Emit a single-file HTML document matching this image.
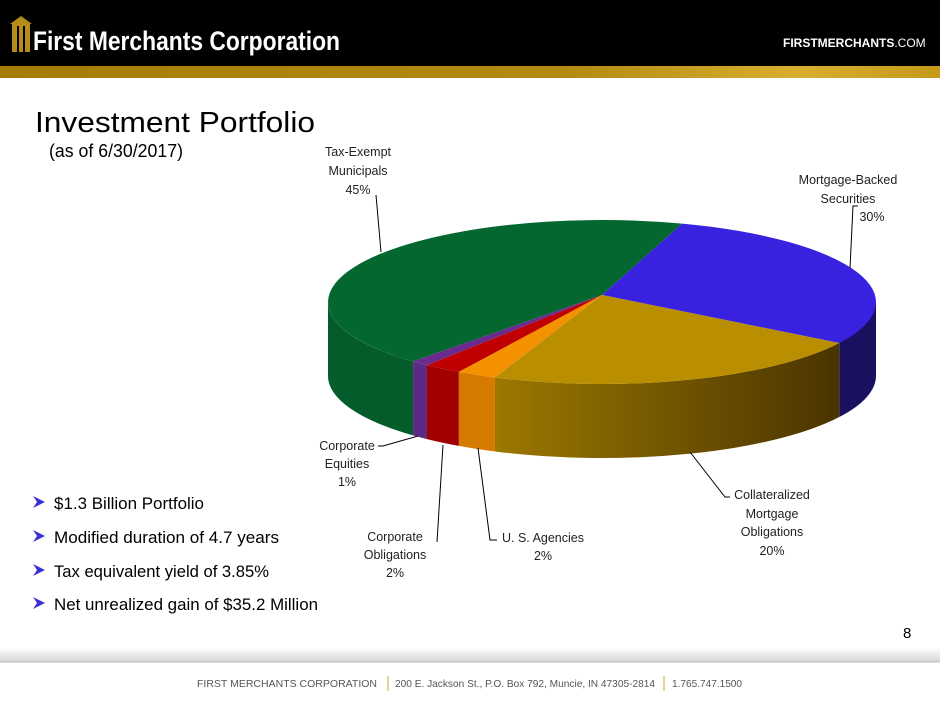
<!DOCTYPE html>
<html><head><meta charset="utf-8"><style>
html,body{margin:0;padding:0;background:#fff;}
svg{display:block;font-family:"Liberation Sans",sans-serif;}
</style></head><body>
<svg width="940" height="705" viewBox="0 0 940 705" xmlns="http://www.w3.org/2000/svg">
<defs>
<linearGradient id="gb" x1="0" x2="1" y1="0" y2="0">
<stop offset="0" stop-color="#a67c00"/><stop offset="0.6" stop-color="#b38a10"/><stop offset="0.85" stop-color="#d9ae30"/><stop offset="1" stop-color="#c59a18"/></linearGradient>
<linearGradient id="gs" x1="0" x2="1" y1="0" y2="0">
<stop offset="0" stop-color="#9c7800"/><stop offset="1" stop-color="#4a3400"/></linearGradient>
<linearGradient id="ft" x1="0" x2="0" y1="0" y2="1">
<stop offset="0" stop-color="#fff"/><stop offset="1" stop-color="#d4d4d4"/></linearGradient>
</defs>
<rect x="0" y="0" width="940" height="66" fill="#000"/>
<rect x="0" y="66" width="940" height="12" fill="url(#gb)"/>
<rect x="12" y="24" width="18" height="28" fill="#b68c1a"/>
<rect x="17" y="26" width="2" height="26" fill="#000"/>
<rect x="23" y="26" width="2" height="26" fill="#000"/>
<polygon points="10,24 21,16 32,24" fill="#b68c1a"/>
<text x="33" y="50" fill="#fff" font-size="27" font-weight="bold" textLength="307" lengthAdjust="spacingAndGlyphs">First Merchants Corporation</text>
<text x="783" y="47" fill="#fff" font-size="12" font-weight="bold">FIRSTMERCHANTS<tspan font-weight="normal">.COM</tspan></text>

<text x="35" y="132" font-size="29" fill="#000" textLength="280" lengthAdjust="spacingAndGlyphs">Investment Portfolio</text>
<text x="49" y="157" font-size="18" fill="#000" textLength="134" lengthAdjust="spacingAndGlyphs">(as of 6/30/2017)</text>

<path d="M839.3,343 A274,82 0 0 1 876,302 L876,376 A274,82 0 0 1 839.3,417 Z" fill="#1a1060"/>
<path d="M839.3,343 A274,82 0 0 1 494.9,377.5 L494.9,451.5 A274,82 0 0 0 839.3,417 Z" fill="url(#gs)"/>
<path d="M494.9,377.5 A274,82 0 0 1 458.8,371.9 L458.8,445.9 A274,82 0 0 0 494.9,451.5 Z" fill="#d67a00"/>
<path d="M458.8,371.9 A274,82 0 0 1 427,365.1 L427,439.1 A274,82 0 0 0 458.8,445.9 Z" fill="#a00000"/>
<path d="M427,365.1 A274,82 0 0 1 413.1,361.4 L413.1,435.4 A274,82 0 0 0 427,439.1 Z" fill="#5c2a84"/>
<path d="M413.1,361.4 A274,82 0 0 1 328,302 L328,376 A274,82 0 0 0 413.1,435.4 Z" fill="#035c2a"/>
<path d="M602,295 L413.1,361.4 A274,82 0 0 1 682.1,223.6 Z" fill="#03672f"/>
<path d="M602,295 L682.1,223.6 A274,82 0 0 1 839.3,343 Z" fill="#3822e0"/>
<path d="M602,295 L839.3,343 A274,82 0 0 1 494.9,377.5 Z" fill="#b98e00"/>
<path d="M602,295 L494.9,377.5 A274,82 0 0 1 458.8,371.9 Z" fill="#f39100"/>
<path d="M602,295 L458.8,371.9 A274,82 0 0 1 427,365.1 Z" fill="#c00000"/>
<path d="M602,295 L427,365.1 A274,82 0 0 1 413.1,361.4 Z" fill="#6a2a8e"/>

<g stroke="#000" stroke-width="1" fill="none">
<path d="M376,195 L381,252"/>
<path d="M858,206 L853,206 L850,268"/>
<path d="M690,452 L725,497 L730,497"/>
<path d="M478,448 L490,540 L497,540"/>
<path d="M443,445 L437,542"/>
<path d="M418,436 L383,446 L378,446"/>
</g>
<g font-size="12.5" fill="#222" text-anchor="middle">
<text x="358" y="156">Tax-Exempt</text><text x="358" y="175">Municipals</text><text x="358" y="194">45%</text>
<text x="848" y="184">Mortgage-Backed</text><text x="848" y="203">Securities</text><text x="872" y="221">30%</text>
<text x="772" y="499">Collateralized</text><text x="772" y="518">Mortgage</text><text x="772" y="536">Obligations</text><text x="772" y="555">20%</text>
<text x="543" y="542">U. S. Agencies</text><text x="543" y="560">2%</text>
<text x="395" y="541">Corporate</text><text x="395" y="559">Obligations</text><text x="395" y="577">2%</text>
<text x="347" y="450">Corporate</text><text x="347" y="468">Equities</text><text x="347" y="486">1%</text>
</g>

<g fill="#3a30d8">
<path d="M33,496 L45,502 L33,508 L37,502 Z"/>
<path d="M33,530 L45,536 L33,542 L37,536 Z"/>
<path d="M33,564 L45,570 L33,576 L37,570 Z"/>
<path d="M33,597 L45,603 L33,609 L37,603 Z"/>
</g>
<g font-size="17" fill="#000">
<text x="54" y="509" textLength="150" lengthAdjust="spacingAndGlyphs">$1.3 Billion Portfolio</text>
<text x="54" y="543" textLength="225" lengthAdjust="spacingAndGlyphs">Modified duration of 4.7 years</text>
<text x="54" y="577" textLength="215" lengthAdjust="spacingAndGlyphs">Tax equivalent yield of 3.85%</text>
<text x="54" y="610" textLength="264" lengthAdjust="spacingAndGlyphs">Net unrealized gain of $35.2 Million</text>
</g>
<text x="903" y="638" font-size="15" fill="#000">8</text>

<rect x="0" y="648" width="940" height="14" fill="url(#ft)"/>
<line x1="0" y1="662" x2="940" y2="662" stroke="#bbb"/>
<text x="197" y="687" font-size="10.5" fill="#555" textLength="180" lengthAdjust="spacingAndGlyphs">FIRST MERCHANTS CORPORATION</text>
<line x1="388" y1="676" x2="388" y2="691" stroke="#c9a640"/>
<text x="395" y="687" font-size="10.5" fill="#555" textLength="260" lengthAdjust="spacingAndGlyphs">200 E. Jackson St., P.O. Box 792, Muncie, IN 47305-2814</text>
<line x1="664" y1="676" x2="664" y2="691" stroke="#c9a640"/>
<text x="672" y="687" font-size="10.5" fill="#555" textLength="70" lengthAdjust="spacingAndGlyphs">1.765.747.1500</text>
</svg>
</body></html>
